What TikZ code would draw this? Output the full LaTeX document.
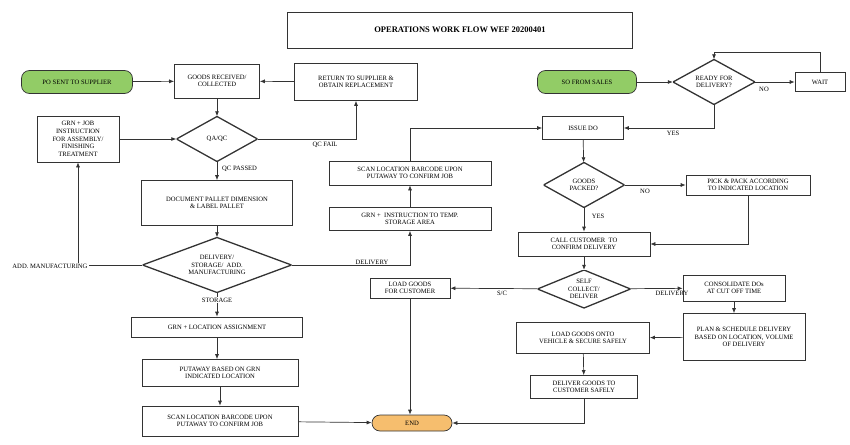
\documentclass[tikz,border=0pt]{standalone}
\usepackage{fontspec}
\setmainfont{Liberation Serif}
\usetikzlibrary{arrows.meta}
\tikzset{
  base/.style={font=\fontsize{6.6}{7.6}\selectfont, align=center, inner sep=0pt},
  box/.style={base, draw=black!80, line width=0.7pt, rectangle},
  term/.style={base, draw=black!80, line width=0.7pt, rounded corners=8pt},
  dia/.style={base, rectangle, path picture={\draw[black!80, line width=1.3pt]
     (path picture bounding box.north) -- (path picture bounding box.east) --
     (path picture bounding box.south) -- (path picture bounding box.west) -- cycle;}},
  lbl/.style={base, fill=white, inner sep=1pt},
  flow/.style={draw=black!80, line width=0.7pt, -{Latex[length=5pt,width=4pt]}},
  ln/.style={draw=black!80, line width=0.7pt}
}
\begin{document}
\begin{tikzpicture}[x=1pt,y=-1pt]
\useasboundingbox (0,0) rectangle (850,444);
\node[box, minimum width=345pt, minimum height=36pt, font=\bfseries\fontsize{8.5}{10}\selectfont] (title) at (460,30) {OPERATIONS WORK FLOW WEF 20200401};
% left side
\node[term, fill={rgb,255:red,146;green,204;blue,102}, minimum width=111pt, minimum height=23pt] (po) at (77,82) {PO SENT TO SUPPLIER};
\node[box, minimum width=85pt, minimum height=34pt] (gr) at (217,81) {GOODS RECEIVED/\\COLLECTED};
\node[box, minimum width=123pt, minimum height=37pt] (ret) at (356,82) {RETURN TO SUPPLIER \&\\OBTAIN REPLACEMENT};
\node[dia, minimum width=81pt, minimum height=45pt] (qa) at (217,139) {QA/QC};
\node[box, minimum width=82pt, minimum height=46pt] (job) at (78,139) {GRN + JOB\\INSTRUCTION\\FOR ASSEMBLY/\\FINISHING\\TREATMENT};
\node[box, minimum width=151pt, minimum height=45pt] (doc) at (217,203) {DOCUMENT PALLET DIMENSION\\\& LABEL PALLET};
\node[dia, minimum width=149pt, minimum height=55pt] (dsa) at (217,265) {DELIVERY/\\STORAGE/\ \ ADD.\\MANUFACTURING};
\node[box, minimum width=171pt, minimum height=20pt] (loc) at (217,327) {GRN + LOCATION ASSIGNMENT};
\node[box, minimum width=156pt, minimum height=27pt] (put) at (220,373) {PUTAWAY BASED ON GRN\\INDICATED LOCATION};
\node[box, minimum width=156pt, minimum height=30pt] (scan2) at (220,421) {SCAN LOCATION BARCODE UPON\\PUTAWAY TO CONFIRM JOB};
\node[box, minimum width=162pt, minimum height=23pt] (tmp) at (410,219) {GRN +\ \ INSTRUCTION TO TEMP.\\STORAGE AREA};
\node[box, minimum width=162pt, minimum height=24pt] (scan1) at (410,173) {SCAN LOCATION BARCODE UPON\\PUTAWAY TO CONFIRM JOB};
\node[term, fill={rgb,255:red,246;green,190;blue,110}, minimum width=80pt, minimum height=16pt] (end) at (412,423) {END};
% right side
\node[term, fill={rgb,255:red,146;green,204;blue,102}, minimum width=99pt, minimum height=23pt] (so) at (587,82) {SO FROM SALES};
\node[dia, minimum width=82pt, minimum height=45pt] (ready) at (714,82) {READY FOR\\DELIVERY?};
\node[box, minimum width=50pt, minimum height=19pt] (wait) at (820,82) {WAIT};
\node[box, minimum width=81pt, minimum height=23pt] (issue) at (583,128) {ISSUE DO};
\node[dia, minimum width=81pt, minimum height=45pt] (packed) at (584,185) {GOODS\\PACKED?};
\node[box, minimum width=124pt, minimum height=20pt] (pick) at (748,185) {PICK \& PACK ACCORDING\\TO INDICATED LOCATION};
\node[box, minimum width=132pt, minimum height=24pt] (call) at (584,244) {CALL CUSTOMER\ \ TO\\CONFIRM DELIVERY};
\node[dia, minimum width=93pt, minimum height=38pt] (self) at (584,289) {SELF\\COLLECT/\\DELIVER};
\node[box, minimum width=80pt, minimum height=20pt] (lgc) at (410,288) {LOAD GOODS\\FOR CUSTOMER};
\node[box, minimum width=102pt, minimum height=26pt] (cons) at (734,288) {CONSOLIDATE DOs\\AT CUT OFF TIME};
\node[box, minimum width=122pt, minimum height=47pt] (plan) at (744,337) {PLAN \& SCHEDULE DELIVERY\\BASED ON LOCATION, VOLUME\\OF DELIVERY};
\node[box, minimum width=133pt, minimum height=31pt] (lveh) at (583,338) {LOAD GOODS ONTO\\VEHICLE \& SECURE SAFELY};
\node[box, minimum width=107pt, minimum height=23pt] (dlv) at (584,387) {DELIVER GOODS TO\\CUSTOMER SAFELY};
% connectors left
\draw[flow] (po) -- (gr);
\draw[flow] (ret) -- (gr);
\draw[flow] (gr) -- (qa);
\draw[flow] (job) -- (qa);
\draw[flow] (qa.east) -| (ret.south);
\node[base] (lqf) at (325,145) {QC FAIL};
\draw[flow] (qa) -- (doc);
\node[base, anchor=west] (lqp) at (222,169) {QC PASSED};
\draw[flow] (doc) -- (dsa);
\draw[flow] (dsa.west) -| (job.south);
\node[base, fill=white, inner sep=1pt] (lam) at (50,266) {ADD. MANUFACTURING};
\draw[flow] (dsa.east) -| (tmp.south);
\node[lbl] (ldl) at (372,262) {DELIVERY};
\draw[flow] (dsa.south) -- (loc.north);
\node[lbl] (lst) at (217,300) {STORAGE};
\draw[flow] (loc) -- (put.north -| loc);
\draw[flow] (put) -- (scan2);
\draw[flow] (tmp) -- (scan1);
\draw[flow] (scan1.north) |- (issue.west);
\draw[flow] (scan2) -- (end);
% connectors right
\draw[flow] (so) -- (ready);
\draw[flow] (ready) -- (wait);
\node[base] (lno1) at (764,89) {NO};
\coordinate (wtop) at (820,52);
\draw[flow] (wait.north) -- (wtop) -| (ready.north);
\draw[flow] (ready.south) |- (issue.east);
\node[base] (lyes1) at (673,133) {YES};
\draw[flow] (issue) -- (packed);
\draw[flow] (packed) -- (pick);
\node[base] (lno2) at (645,191) {NO};
\draw[flow] (packed) -- (call);
\node[base] (lyes2) at (598,216) {YES};
\draw[flow] (pick.south) |- (call.east);
\draw[flow] (call) -- (self);
\draw[flow] (self) -- (lgc);
\node[base] (lsc) at (502,293) {S/C};
\draw[flow] (self) -- (cons);
\node[base] (ldl2) at (672,293) {DELIVERY};
\draw[flow] (cons) -- (plan.north -| cons);
\draw[flow] (plan) -- (lveh);
\draw[flow] (lveh) -- (dlv);
\draw[flow] (dlv.south) |- (end.east);
\draw[flow] (lgc) -- (end.north -| lgc);
\end{tikzpicture}
\end{document}
